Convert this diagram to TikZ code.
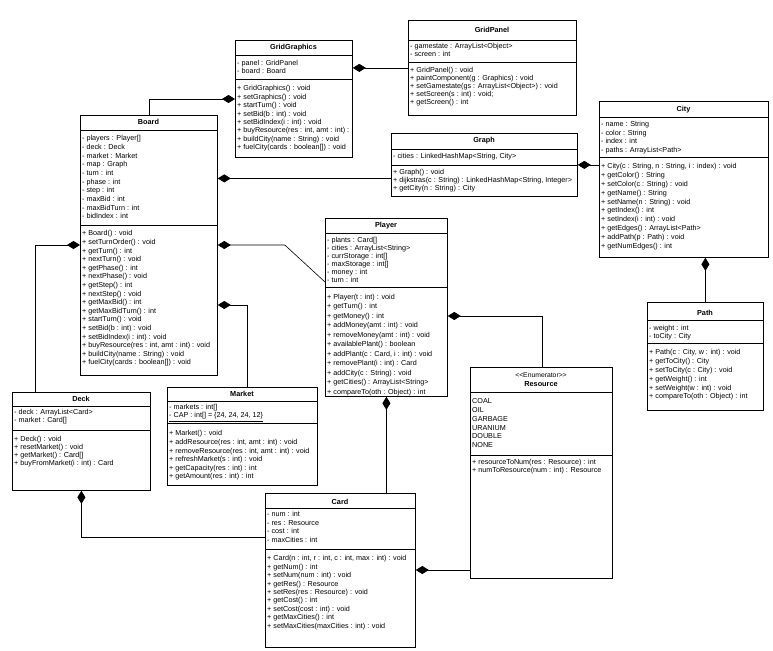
\documentclass[tikz,border=0pt]{standalone}
\usepackage{fontspec}
\setmainfont{Liberation Sans}
\usetikzlibrary{arrows.meta}
\tikzset{classbox/.style = {draw, line width = 0.8pt, anchor = north west, inner sep = 0pt, fill = white}}
\tikzset{rule/.style = {line width = 0.45pt}}
\tikzset{classname/.style = {inner sep = 0pt, font = \fontsize{7.3}{8}\selectfont\bfseries}}
\tikzset{members/.style = {anchor = north west, align = left, inner sep = 0pt, font = \fontsize{7.2}{#1}\selectfont}, members/.default = 8.6}
\tikzset{comp/.style = {-{Diamond[length = 13pt, width = 8pt]}, line width = 0.6pt}}

\begin{document}
\begin{tikzpicture}[x = 1pt, y = -1pt]
\useasboundingbox[fill = white] (0,0) rectangle (773,650);

% GridPanel
\node[classbox, minimum width = 168pt, minimum height = 95pt] (gridpanel) at (408,20) {};
\node[classname] at (492,30) {GridPanel};
\draw[rule] (408,40) -- (576,40);
\node[members = 8] at (410,43.5) {- gamestate : ArrayList<Object>\\- screen : int};
\draw[rule] (408,62) -- (576,62);
\node[members = 8] at (410,67.5) {+ GridPanel() : void\\+ paintComponent(g : Graphics) : void\\+ setGamestate(gs : ArrayList<Object>) : void\\+ setScreen(s : int) : void;\\+ getScreen() : int};

% GridGraphics
\node[classbox, minimum width = 117pt, minimum height = 117pt] (gridgraphics) at (235,40) {};
\node[classname] at (293.5,48) {GridGraphics};
\draw[rule] (235,55) -- (352,55);
\node[members = 8] at (237,60.5) {- panel : GridPanel\\- board : Board};
\draw[rule] (235,79) -- (352,79);
\node[members = 8.4] at (237,85.5) {+ GridGraphics() : void\\+ setGraphics() : void\\+ startTurn() : void\\+ setBid(b : int) : void\\+ setBidIndex(i : int) : void\\+ buyResource(res : int, amt : int) :\\+ buildCity(name : String) : void\\+ fuelCity(cards : boolean[]) : void};

% Graph
\node[classbox, minimum width = 186pt, minimum height = 63pt] (graph) at (391,133) {};
\node[classname] at (484,141) {Graph};
\draw[rule] (391,149) -- (577,149);
\node[members] at (393,153.5) {- cities : LinkedHashMap<String, City>};
\draw[rule] (391,165) -- (577,165);
\node[members = 8] at (393,169.5) {+ Graph() : void\\+ dijkstras(c : String) : LinkedHashMap<String, Integer>\\+ getCity(n : String) : City};

% City
\node[classbox, minimum width = 169pt, minimum height = 156pt] (city) at (599,101) {};
\node[classname] at (683.5,110) {City};
\draw[rule] (599,117) -- (768,117);
\node[members = 8.4] at (601,121.5) {- name : String\\- color : String\\- index : int\\- paths : ArrayList<Path>};
\draw[rule] (599,157) -- (768,157);
\node[members = 8.8] at (601,163.5) {+ City(c : String, n : String, i : index) : void\\+ getColor() : String\\+ setColor(c : String) : void\\+ getName() : String\\+ setName(n : String) : void\\+ getIndex() : int\\+ setIndex(i : int) : void\\+ getEdges() : ArrayList<Path>\\+ addPath(p : Path) : void\\+ getNumEdges() : int};

% Path
\node[classbox, minimum width = 116pt, minimum height = 108pt] (path) at (647,302) {};
\node[classname] at (705,313) {Path};
\draw[rule] (647,320) -- (763,320);
\node[members = 8] at (649,325.5) {- weight : int\\- toCity : City};
\draw[rule] (647,343) -- (763,343);
\node[members = 8.8] at (649,349.5) {+ Path(c : City, w : int) : void\\+ getToCity() : City\\+ setToCity(c : City) : void\\+ getWeight() : int\\+ setWeight(w : int) : void\\+ compareTo(oth : Object) : int};

% Board
\node[classbox, minimum width = 137pt, minimum height = 260pt] (board) at (80,115) {};
\node[classname] at (148.5,122) {Board};
\draw[rule] (80,130) -- (217,130);
\node[members = 8.67] at (82,135.5) {- players : Player[]\\- deck : Deck\\- market : Market\\- map : Graph\\- turn : int\\- phase : int\\- step : int\\- maxBid : int\\- maxBidTurn : int\\- bidIndex : int};
\draw[rule] (80,225) -- (217,225);
\node[members = 8.6] at (82,230.5) {+ Board() : void\\+ setTurnOrder() : void\\+ getTurn() : int\\+ nextTurn() : void\\+ getPhase() : int\\+ nextPhase() : void\\+ getStep() : int\\+ nextStep() : void\\+ getMaxBid() : int\\+ getMaxBidTurn() : int\\+ startTurn() : void\\+ setBid(b : int) : void\\+ setBidIndex(i : int) : void\\+ buyResource(res : int, amt : int) : void\\+ buildCity(name : String) : void\\+ fuelCity(cards : boolean[]) : void};

% Player
\node[classbox, minimum width = 122pt, minimum height = 178pt] (player) at (325,218) {};
\node[classname] at (386,226) {Player};
\draw[rule] (325,233) -- (447,233);
\node[members = 7.9] at (327,237.5) {- plants : Card[]\\- cities : ArrayList<String>\\- currStorage : int[]\\- maxStorage : int[]\\- money : int\\- turn : int};
\draw[rule] (325,287) -- (447,287);
\node[members = 9.5] at (327,294) {+ Player(t : int) : void\\+ getTurn() : int\\+ getMoney() : int\\+ addMoney(amt : int) : void\\+ removeMoney(amt : int) : void\\+ availablePlant() : boolean\\+ addPlant(c : Card, i : int) : void\\+ removePlant(i : int) : Card\\+ addCity(c : String) : void\\+ getCities() : ArrayList<String>\\+ compareTo(oth : Object) : int};

% Deck
\node[classbox, minimum width = 138pt, minimum height = 98pt] (deck) at (12,392) {};
\node[classname] at (81,399) {Deck};
\draw[rule] (12,406) -- (150,406);
\node[members = 8] at (14,409.5) {- deck : ArrayList<Card>\\- market : Card[]};
\draw[rule] (12,430) -- (150,430);
\node[members = 8] at (14,436.5) {+ Deck() : void\\+ resetMarket() : void\\+ getMarket() : Card[]\\+ buyFromMarket(i : int) : Card};

% Market
\node[classbox, minimum width = 150pt, minimum height = 98pt] (market) at (167,387) {};
\node[classname] at (242,394) {Market};
\draw[rule] (167,401) -- (317,401);
\node[members = 8] at (169,404.5) {- markets : int[]\\\underline{- CAP : int[] = \{24, 24, 24, 12\}}};
\draw[rule] (167,423) -- (317,423);
\node[members = 8.6] at (169,430.5) {+ Market() : void\\+ addResource(res : int, amt : int) : void\\+ removeResource(res : int, amt : int) : void\\+ refreshMarket(s : int) : void\\+ getCapacity(res : int) : int\\+ getAmount(res : int) : int};

% Resource
\node[classbox, minimum width = 142pt, minimum height = 211pt] (resource) at (470,367) {};
\node[inner sep = 0pt, font = \fontsize{6.8}{7}\selectfont] at (541,375) {<{}<Enumerator>{}>};
\node[classname] at (541,384.5) {Resource};
\draw[rule] (470,392) -- (612,392);
\node[members = 8.8] at (472,398.5) {COAL\\OIL\\GARBAGE\\URANIUM\\DOUBLE\\NONE};
\draw[rule] (470,455) -- (612,455);
\node[members = 8] at (472,459.5) {+ resourceToNum(res : Resource) : int\\+ numToResource(num : int) : Resource};

% Card
\node[classbox, minimum width = 150pt, minimum height = 154pt] (card) at (265,493) {};
\node[classname] at (340,502) {Card};
\draw[rule] (265,508) -- (415,508);
\node[members = 8.4] at (267,511.5) {- num : int\\- res : Resource\\- cost : int\\- maxCities : int};
\draw[rule] (265,549) -- (415,549);
\node[members = 8.4] at (267,555.5) {+ Card(n : int, r : int, c : int, max : int) : void\\+ getNum() : int\\+ setNum(num : int) : void\\+ getRes() : Resource\\+ setRes(res : Resource) : void\\+ getCost() : int\\+ setCost(cost : int) : void\\+ getMaxCities() : int\\+ setMaxCities(maxCities : int) : void};

% compositions
\coordinate (graph-in) at ([yshift = -13.5pt]graph.west);
\coordinate (player-in) at ([yshift = -64pt]player.north west);
\coordinate (resource-in) at ([yshift = -77pt]card.north east);
\draw[comp] ([xshift = 69pt]board.north west) |- ([yshift = -59pt]gridgraphics.north west);
\draw[comp] (gridpanel.west) -- (gridgraphics.east |- gridpanel.west);
\draw[comp] (graph-in) -- (graph-in -| board.east);
\draw[comp] (city.west |- graph.east) -- (graph.east);
\draw[comp] (path.north) -- (city.south -| path.north);
\draw[comp] ([xshift = 23pt]deck.north west) |- ([yshift = -130pt]board.north west);
\draw[comp] (player-in) -- ([xshift = 67pt, yshift = -130pt]board.north east) -- ([yshift = -130pt]board.north east);
\draw[comp] ([xshift = 80pt]market.north west) |- ([yshift = -190pt]board.north east);
\draw[comp] ([xshift = 72pt]resource.north west) |- ([yshift = -98pt]player.north east);
\draw[comp] (player.south |- card.north) -- (player.south);
\draw[comp] ([yshift = -44pt]card.north west) -| (deck.south);
\draw[comp] (resource-in -| resource.west) -- (resource-in);
\end{tikzpicture}
\end{document}
